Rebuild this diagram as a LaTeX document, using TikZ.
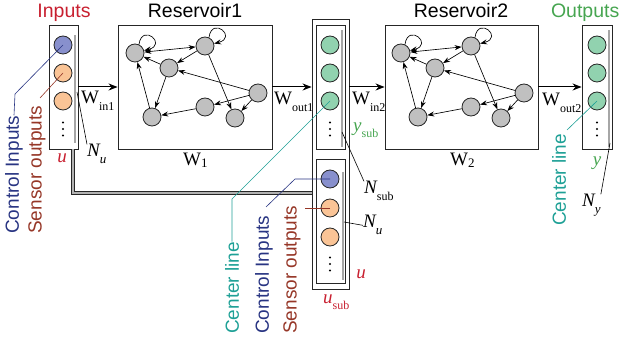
\documentclass[tikz,border=0pt]{standalone}
\usepackage{fontspec}
\setmainfont{Liberation Sans}
\newfontfamily\tms{Liberation Serif}
\usetikzlibrary{arrows.meta}
\newcommand\fs[1]{\fontsize{#1}{#1}\selectfont}
\newcommand\Wsub[1]{{\tms\fs{19}W\raisebox{-7pt}{\fs{12}#1}}}
\newcommand\Nsub[1]{{\tms\fs{19}\itshape N\raisebox{-7pt}{\fs{13}#1}}}
\newcommand\VDots[2]{\fill (#1,#2-6.5) circle (1.2pt) (#1,#2) circle (1.2pt) (#1,#2+6.5) circle (1.2pt);}
\definecolor{cblue}{RGB}{136,144,205}
\definecolor{corange}{RGB}{250,196,150}
\definecolor{cgreen}{RGB}{145,210,175}
\definecolor{cgray}{RGB}{192,192,192}
\definecolor{tred}{RGB}{200,32,48}
\definecolor{tblue}{RGB}{40,52,130}
\definecolor{tbrown}{RGB}{150,55,40}
\definecolor{tteal}{RGB}{30,160,150}
\definecolor{tgreen}{RGB}{70,165,80}
\tikzset{
  boxn/.style={draw=black!85, line width=0.9pt, rectangle, inner sep=0},
  cell/.style={circle, draw=black!85, line width=0.8pt, minimum size=18pt, inner sep=0},
  rn/.style={circle, draw=black!85, fill=cgray, line width=0.8pt, minimum size=18pt, inner sep=0},
  ra/.style={-{Stealth[length=7pt,width=5pt]}, line width=0.65pt},
  rb/.style={{Stealth[length=7pt,width=5pt]}-{Stealth[length=7pt,width=5pt]}, line width=0.65pt},
  bigarrow/.style={-{Stealth[length=9pt,width=7pt]}, line width=1pt},
  inline/.style={draw=gray!70, line width=1.3pt},
  dbl/.style={draw=black!85, line width=0.8pt, double=gray!60, double distance=1.8pt},
  lead/.style={line width=0.6pt},
  vtext/.style={rotate=90, anchor=west, inner sep=0, font=\fs{19}},
  lab/.style={inner sep=0}
}
\newcommand\ResNet[2]{%
\begin{scope}[xshift=#2pt]
  \node[rn] (#1a) at (135,53) {};
  \node[rn] (#1b) at (205,46) {};
  \node[rn] (#1c) at (169,68) {};
  \node[rn] (#1d) at (258,93) {};
  \node[rn] (#1e) at (205,107) {};
  \node[rn] (#1f) at (152,117) {};
  \node[rn] (#1g) at (235,118) {};
  \draw[ra] (#1a.65) .. controls +(3,-22) and +(24,-6) .. (#1a.15);
  \draw[ra] (#1b.65) .. controls +(3,-22) and +(24,-6) .. (#1b.15);
  \draw[rb] (#1a) -- (#1b);
  \draw[ra] (#1c) -- (#1a);
  \draw[ra] (#1b) -- (#1c);
  \draw[ra] (#1c) -- (#1f);
  \draw[ra] (#1f) -- (#1a);
  \draw[ra] (#1d) -- (#1c);
  \draw[ra] (#1d) -- (#1e);
  \draw[ra] (#1d) -- (#1g);
  \draw[ra] (#1e) -- (#1f);
  \draw[ra] (#1b) -- (#1g);
\end{scope}}
\begin{document}
\begin{tikzpicture}[x=1pt,y=-1pt]
\useasboundingbox (0,0) rectangle (620,344);
% boxes
\node[boxn, minimum width=29pt, minimum height=124pt] (inp) at (63.5,87) {};
\node[boxn, minimum width=154pt, minimum height=124pt] (res1) at (195,87) {};
\node[boxn, minimum width=37pt, minimum height=270pt] (mid) at (330.5,154) {};
\node[boxn, minimum width=29pt, minimum height=124pt] (midu) at (330.5,87) {};
\node[boxn, minimum width=29pt, minimum height=124pt] (midl) at (330.5,221) {};
\node[boxn, minimum width=153pt, minimum height=124pt] (res2) at (461.5,87) {};
\node[boxn, minimum width=30pt, minimum height=124pt] (outb) at (597,87) {};
% inner lines
\draw[inline] (75,35) -- (75,143);
\draw[inline] (342,30) -- (342,147);
\draw[inline] (343,172) -- (343,280);
\draw[inline] (609,30) -- (609,147);
% cells
\node[cell, fill=cblue] (i1) at (63,45) {};
\node[cell, fill=corange] (i2) at (63,73) {};
\node[cell, fill=corange] (i3) at (63,101) {};
\VDots{63}{129}
\node[cell, fill=cgreen] (m1) at (330,45) {};
\node[cell, fill=cgreen] (m2) at (330,73) {};
\node[cell, fill=cgreen] (m3) at (330,101) {};
\VDots{330}{129}
\node[cell, fill=cblue] (l1) at (330,179) {};
\node[cell, fill=corange] (l2) at (330,208) {};
\node[cell, fill=corange] (l3) at (330,237) {};
\VDots{330}{264}
\node[cell, fill=cgreen] (o1) at (597,45) {};
\node[cell, fill=cgreen] (o2) at (597,73) {};
\node[cell, fill=cgreen] (o3) at (597,101) {};
\VDots{597}{129}
% reservoirs
\ResNet{r}{0}
\ResNet{s}{266}
% main arrows
\draw[bigarrow] (inp.east) -- (res1.west);
\draw[bigarrow] (res1.east) -- (mid.west |- res1.east);
\draw[bigarrow] (mid.east |- res2.west) -- (res2.west);
\draw[bigarrow] (res2.east) -- (outb.west);
% double connection
\coordinate (c1) at (73,193);
\draw[dbl] (c1 |- inp.south) -- (c1) -- (c1 -| mid.west);
% titles
\node[lab, anchor=base, font=\fs{19.5}, text=tred] (tin) at (64,18) {Inputs};
\node[lab, anchor=base, font=\fs{19.5}] (tr1) at (195,18) {Reservoir1};
\node[lab, anchor=base, font=\fs{19.5}] (tr2) at (461,18) {Reservoir2};
\node[lab, anchor=base east, font=\fs{19.5}, text=tgreen] (tout) at (619.5,18) {Outputs};
% weight labels
\node[lab, anchor=base west] (win1) at (81,104) {\Wsub{in1}};
\node[lab, anchor=base west] (wout1) at (274,105) {\Wsub{out1}};
\node[lab, anchor=base west] (win2) at (352,105) {\Wsub{in2}};
\node[lab, anchor=base west] (wout2) at (542,106) {\Wsub{out2}};
\node[lab, anchor=base west] (w1) at (183,166) {{\tms\fs{19}W\raisebox{-2pt}{\fs{13}1}}};
\node[lab, anchor=base west] (w2) at (450,166) {{\tms\fs{19}W\raisebox{-2pt}{\fs{13}2}}};
% N labels
\node[lab, anchor=base west] (nu1) at (87,157) {\Nsub{u}};
\draw[lead] (77,92) -- (nu1.north west);
\node[lab, anchor=base west] (nsub) at (364,194) {{\tms\fs{19}\itshape N\raisebox{-7pt}{\upshape\fs{12}sub}}};
\draw[lead] (342,132) -- (nsub.north west);
\node[lab, anchor=base west] (nu2) at (363,228) {\Nsub{u}};
\draw[lead] (344,222) -- (nu2.west);
\node[lab, anchor=base west] (ny) at (582,207) {\Nsub{y}};
\draw[lead] (610,143) -- (ny.north east);
% variable labels
\node[lab, anchor=base, text=tred] (u1) at (62,163) {{\tms\fs{19}\itshape u}};
\node[lab, anchor=base, text=tred] (u2) at (361,278) {{\tms\fs{19}\itshape u}};
\node[lab, anchor=base west, text=tred] (usub) at (323,303) {{\tms\fs{19}\itshape u\raisebox{-6pt}{\upshape\fs{12}sub}}};
\node[lab, anchor=base west, text=tgreen] (ysub) at (353,132) {{\tms\fs{19}\itshape y\raisebox{-6pt}{\upshape\fs{12}sub}}};
\node[lab, anchor=base, text=tgreen] (y1) at (597,166) {{\tms\fs{19}\itshape y}};
% rotated labels
\node[vtext, text=tblue] (ci1) at (14,234) {Control Inputs};
\node[vtext, text=tbrown] (so1) at (37,234) {Sensor outputs};
\node[vtext, text=tteal] (cl1) at (232,334) {Center line};
\node[vtext, text=tblue] (ci2) at (264,334) {Control Inputs};
\node[vtext, text=tbrown] (so2) at (292,334) {Sensor outputs};
\node[vtext, text=tteal] (cl2) at (559,226) {Center line};
% leaders
\coordinate (k1) at (15,94);
\draw[lead, draw=tblue] (i1.center) -- (k1) -- (ci1.east);
\coordinate (k2) at (40,98);
\draw[lead, draw=tbrown] (i2.center) -- (k2);
\coordinate (k3) at (232,199);
\draw[lead, draw=tteal] (m3.center) -- (k3) -- (cl1.east);
\coordinate (k4) at (295,179);
\coordinate (k5) at (266,207);
\draw[lead, draw=tblue] (l1.center) -- (k4) -- (k5);
\coordinate (k6) at (305,208);
\draw[lead, draw=tbrown] (l2.center) -- (k6);
\coordinate (k7) at (567,130);
\draw[lead, draw=tteal] (o3.center) -- (k7);
\end{tikzpicture}
\end{document}
